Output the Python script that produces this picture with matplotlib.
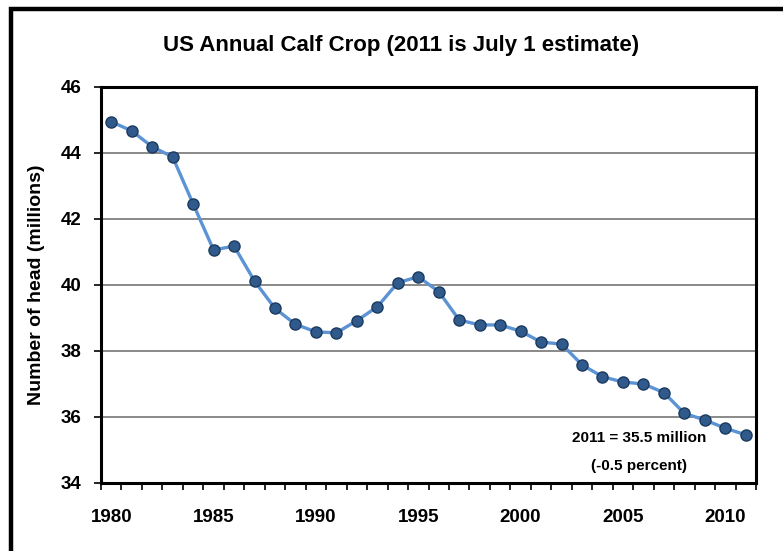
import numpy as np
import matplotlib.pyplot as plt
from matplotlib.patches import Rectangle

# calf crop, millions of head (2011 = July 1 estimate)
years = list(range(1980, 2012))
calves = [44.95, 44.67, 44.19, 43.88, 42.46, 41.06, 41.18, 40.12, 39.29, 38.81,
          38.58, 38.55, 38.92, 39.34, 40.07, 40.25, 39.80, 38.94, 38.79, 38.79,
          38.60, 38.27, 38.21, 37.58, 37.22, 37.06, 37.00, 36.74, 36.11, 35.91,
          35.66, 35.46]
label_years = [1980, 1985, 1990, 1995, 2000, 2005, 2010]
y_ticks = [34, 36, 38, 40, 42, 44, 46]

TITLE = "US Annual Calf Crop (2011 is July 1 estimate)"
YLABEL = "Number of head (millions)"
NOTE1 = "2011 = 35.5 million"
NOTE2 = "(-0.5 percent)"

plt.rcParams['font.family'] = ['Liberation Sans', 'DejaVu Sans']

W, H = 783, 551
fig = plt.figure(figsize=(W / 100, H / 100), dpi=100)

# outer chart border (cut off on right and bottom in the reference)
fig.patches.append(Rectangle((11 / W, -0.1), 1.2, (H - 9) / H + 0.1,
                             transform=fig.transFigure, fill=False,
                             edgecolor='black', linewidth=3.2, clip_on=False))

ax = fig.add_axes([101 / W, (H - 483) / H, (756 - 101) / W, (483 - 87) / H])

ax.plot(years, calves, color='#5B93D5', linewidth=2.4, zorder=3,
        marker='o', markersize=8, markerfacecolor='#2F5A8B',
        markeredgecolor='#1C3A5E', markeredgewidth=1.0)

ax.set_xlim(years[0] - 0.5, years[-1] + 0.5)
ax.set_ylim(y_ticks[0], y_ticks[-1])
ax.set_yticks(y_ticks)
ax.grid(axis='y', color='#808080', linewidth=1.3, zorder=1)

# tick marks between categories, labels on categories
bounds = np.arange(years[0] - 0.5, years[-1] + 1.0, 1.0)
ax.set_xticks(bounds)
ax.set_xticklabels([])
ax.set_xticks(label_years, minor=True)
ax.set_xticklabels([str(y) for y in label_years], minor=True)
ax.tick_params(axis='x', which='major', direction='out', length=5, width=1.2)
ax.tick_params(axis='x', which='minor', length=0, pad=19, labelsize=13.5)
ax.tick_params(axis='y', direction='out', length=5, width=1.2, pad=9,
               labelsize=13.5)
for lab in ax.get_xticklabels(minor=True) + ax.get_yticklabels():
    lab.set_fontweight('bold')

for s in ax.spines.values():
    s.set_linewidth(2.2)
    s.set_color('black')

fig.text(401 / W, 1 - 45 / H, TITLE, ha='center', va='center',
         fontsize=16, fontweight='bold')
fig.text(37 / W, 1 - 285 / H, YLABEL, ha='center', va='center',
         rotation=90, fontsize=14, fontweight='bold')
fig.text(639 / W, 1 - 438 / H, NOTE1, ha='center', va='center',
         fontsize=11, fontweight='bold')
fig.text(639 / W, 1 - 466 / H, NOTE2, ha='center', va='center',
         fontsize=11, fontweight='bold')

fig.savefig("out.png", dpi=100)
